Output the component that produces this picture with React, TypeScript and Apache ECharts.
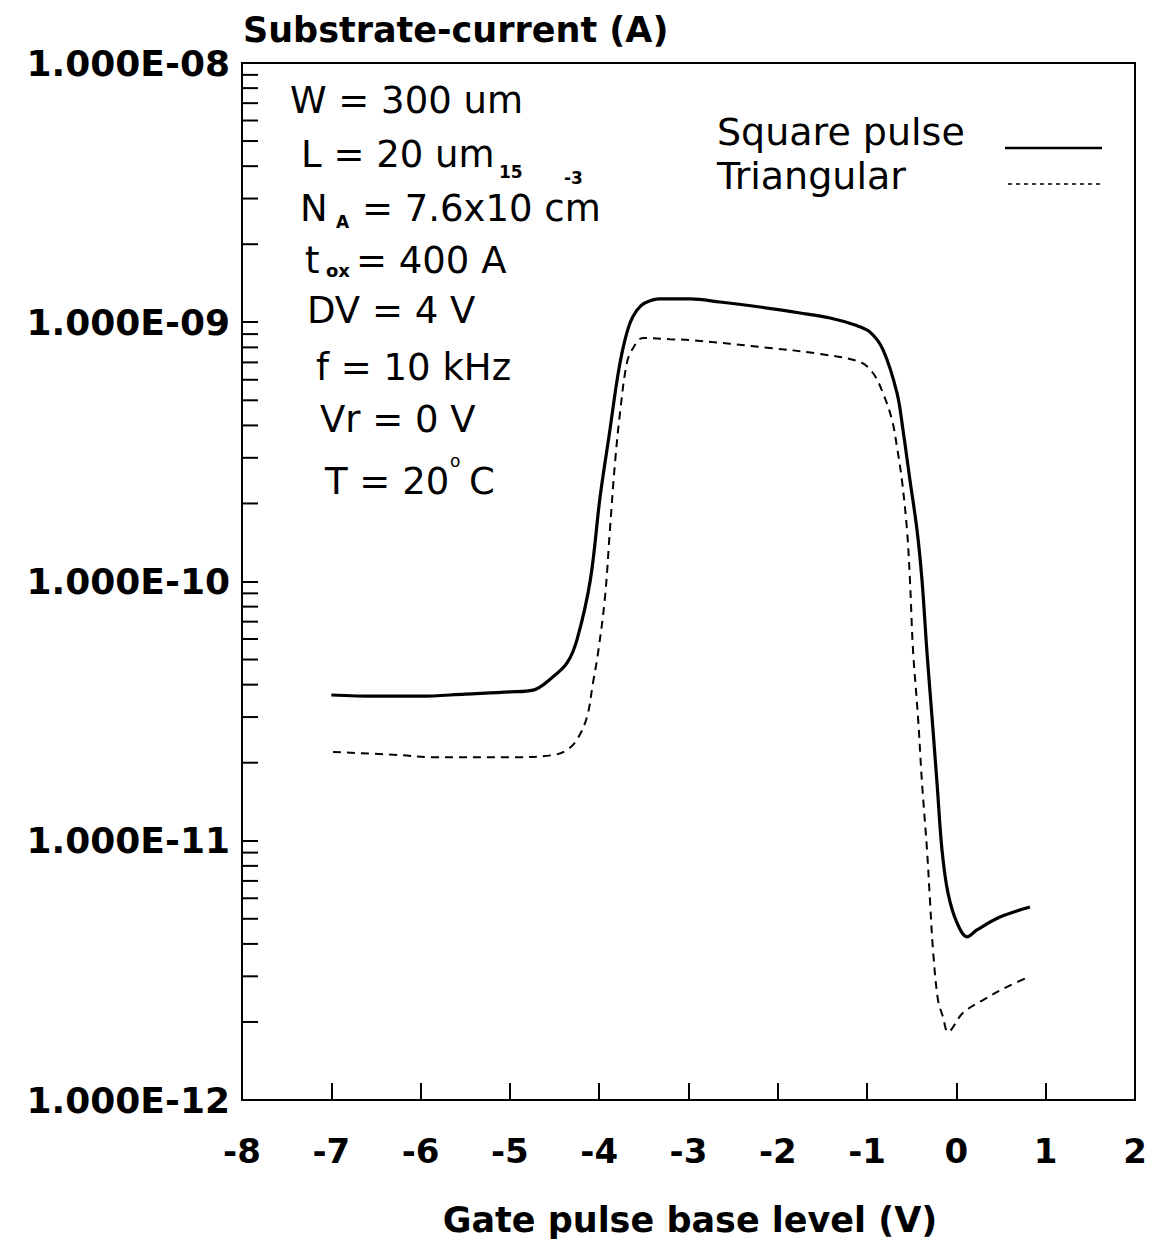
import React, { useEffect, useRef } from "react";
import * as echarts from "echarts";

// Gate pulse base level (V) and substrate current (A), square pulse
const squareV = [
  -7.0, -6.5, -6.0, -5.5, -5.0, -4.74, -4.52, -4.36, -4.25, -4.1, -3.99, -3.88, -3.8, -3.73,
  -3.655, -3.577, -3.49, -3.32, -2.98, -2.647, -2.2, -1.75, -1.415, -1.135, -0.967, -0.82,
  -0.665, -0.598, -0.52, -0.441, -0.385, -0.329, -0.273, -0.217, -0.161, -0.094, 0.007, 0.119,
  0.23, 0.488, 0.824,
];
const squareI = [
  3.65e-11, 3.61e-11, 3.61e-11, 3.68e-11, 3.75e-11, 3.81e-11, 4.28e-11, 4.85e-11, 5.94e-11,
  1.01e-10, 2.12e-10, 3.84e-10, 5.98e-10, 8.03e-10, 9.93e-10, 1.114e-9, 1.186e-9, 1.23e-9,
  1.23e-9, 1.197e-9, 1.145e-9, 1.086e-9, 1.038e-9, 9.75e-10, 9.16e-10, 7.81e-10, 5.33e-10,
  3.84e-10, 2.46e-10, 1.58e-10, 1.01e-10, 5.3e-11, 3.0e-11, 1.67e-11, 9.2e-12, 6.28e-12,
  4.82e-12, 4.26e-12, 4.53e-12, 5.08e-12, 5.55e-12,
];

// Triangular pulse
const triV = [
  -6.98, -6.23, -5.86, -4.965, -4.517, -4.36, -4.25, -4.137, -4.07, -4.013, -3.935, -3.88,
  -3.823, -3.767, -3.69, -3.62, -3.51, -3.21, -2.98, -2.09, -1.53, -1.08, -0.934, -0.822,
  -0.721, -0.665, -0.61, -0.553, -0.52, -0.486, -0.43, -0.385, -0.329, -0.296, -0.262, -0.206,
  -0.15, -0.094, 0.074, 0.298, 0.567, 0.824,
];
const triI = [
  2.2e-11, 2.14e-11, 2.1e-11, 2.1e-11, 2.14e-11, 2.24e-11, 2.45e-11, 3.0e-11, 4.06e-11,
  5.3e-11, 8.7e-11, 1.58e-10, 2.87e-10, 4.47e-10, 6.97e-10, 7.96e-10, 8.7e-10, 8.6e-10,
  8.54e-10, 7.96e-10, 7.55e-10, 7.03e-10, 6.37e-10, 5.33e-10, 4.2e-10, 3.3e-10, 2.46e-10,
  1.58e-10, 1.01e-10, 5.44e-11, 3.0e-11, 1.67e-11, 9.2e-12, 5.9e-12, 3.79e-12, 2.43e-12,
  2.09e-12, 1.83e-12, 2.17e-12, 2.43e-12, 2.73e-12, 3.0e-12,
];

const xMin = -8;
const xMax = 2;
const yMin = 1e-12;
const yMax = 1e-8;
const yTickLabels: Record<number, string> = {
  [-12]: "1.000E-12",
  [-11]: "1.000E-11",
  [-10]: "1.000E-10",
  [-9]: "1.000E-09",
  [-8]: "1.000E-08",
};

// minor log ticks 2..9 within each decade
const minorTicks: number[] = [];
for (let e = -12; e < -8; e++) {
  for (let m = 2; m <= 9; m++) minorTicks.push(m * Math.pow(10, e));
}

const FONT = "DejaVu Sans";

function txt(text: string, x: number, y: number, size: number, weight = "normal", align = "left") {
  return {
    type: "text",
    x,
    y,
    style: {
      text,
      fill: "#000",
      font: `${weight} ${size}px "${FONT}"`,
      textAlign: align,
      textVerticalAlign: "middle",
    },
    z: 10,
  };
}

export default function App() {
  const ref = useRef<HTMLDivElement>(null);

  useEffect(() => {
    if (!ref.current) return;
    const chart = echarts.init(ref.current, null, { renderer: "svg" });

    const squareData = squareV.map((v, i) => [v, squareI[i]]);
    const triData = triV.map((v, i) => [v, triI[i]]);

    chart.setOption({
      animation: false,
      backgroundColor: "#fff",
      grid: {
        left: 242,
        right: 24,
        top: 63,
        bottom: 143,
        show: true,
        borderColor: "#000",
        borderWidth: 2,
        backgroundColor: "transparent",
      },
      xAxis: {
        type: "value",
        min: xMin,
        max: xMax,
        interval: 1,
        splitLine: { show: false },
        axisLine: { onZero: false, lineStyle: { color: "#000", width: 2 } },
        axisTick: { inside: true, length: 17, lineStyle: { color: "#000", width: 2 } },
        axisLabel: {
          margin: 34,
          color: "#000",
          fontFamily: FONT,
          fontWeight: "bold",
          fontSize: 34,
        },
      },
      yAxis: {
        type: "log",
        logBase: 10,
        min: yMin,
        max: yMax,
        splitLine: { show: false },
        axisLine: { onZero: false, lineStyle: { color: "#000", width: 2 } },
        axisTick: { inside: true, length: 16, lineStyle: { color: "#000", width: 2 } },
        axisLabel: {
          margin: 12,
          color: "#000",
          fontFamily: FONT,
          fontWeight: "bold",
          fontSize: 36,
          formatter: (val: number) => yTickLabels[Math.round(Math.log10(val))] ?? "",
        },
      },
      series: [
        {
          name: "Square pulse",
          type: "line",
          data: squareData,
          showSymbol: false,
          smooth: 0.35,
          lineStyle: { color: "#000", width: 3.2 },
          z: 3,
        },
        {
          name: "Triangular",
          type: "line",
          data: triData,
          showSymbol: false,
          smooth: 0.35,
          lineStyle: { color: "#000", width: 2, type: [8, 6] },
          z: 3,
        },
        {
          type: "custom",
          data: minorTicks.map((v) => [xMin, v]),
          clip: false,
          silent: true,
          z: 4,
          renderItem: (_params: any, api: any) => {
            const p = api.coord([api.value(0), api.value(1)]);
            return {
              type: "line",
              shape: { x1: p[0], y1: p[1], x2: p[0] + 16, y2: p[1] },
              style: { stroke: "#000", lineWidth: 2 },
            };
          },
        },
      ],
      graphic: [
        txt("Substrate-current (A)", 243, 30, 35, "bold"),
        txt("Gate pulse base level (V)", 690, 1220, 35, "bold", "center"),
        // device and measurement conditions
        txt("W = 300 um", 290, 100, 37),
        txt("L = 20 um", 301, 154, 37),
        txt("N", 300, 208, 37),
        txt("A", 336, 222, 17, "bold"),
        txt("= 7.6x10 cm", 362, 208, 37),
        txt("15", 499, 172, 17, "bold"),
        txt("-3", 564, 178, 17, "bold"),
        txt("t", 305, 260, 37),
        txt("ox", 326, 270, 18, "bold"),
        txt("= 400 A", 356, 260, 37),
        txt("DV = 4 V", 307, 310, 37),
        txt("f = 10 kHz", 316, 367, 37),
        txt("Vr = 0 V", 320, 419, 37),
        txt("T = 20", 325, 481, 37),
        txt("o", 450, 461, 17),
        txt("C", 469, 481, 37),
        // legend
        txt("Square pulse", 717, 132, 38),
        txt("Triangular", 717, 176, 38),
        {
          type: "line",
          shape: { x1: 1005, y1: 148, x2: 1102, y2: 148 },
          style: { stroke: "#000", lineWidth: 2.5 },
          z: 10,
        },
        {
          type: "line",
          shape: { x1: 1008, y1: 184, x2: 1100, y2: 184 },
          style: { stroke: "#000", lineWidth: 1.5, lineDash: [4, 4] },
          z: 10,
        },
      ],
    });

    return () => chart.dispose();
  }, []);

  return (
    <div
      ref={ref}
      style={{ position: "absolute", left: 0, top: 0, width: 1159, height: 1243, background: "#fff" }}
    />
  );
}
